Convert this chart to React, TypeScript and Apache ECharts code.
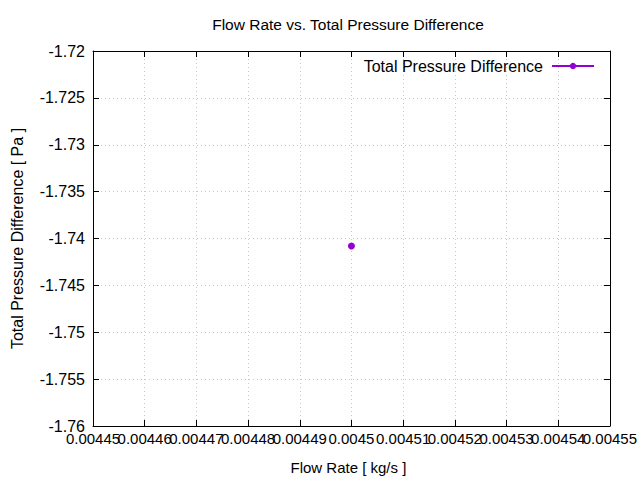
import React, { useEffect, useRef } from "react";
import * as echarts from "echarts";

const flowRate = [0.0045];
const totalPressureDifference = [-1.7408];
const seriesName = "Total Pressure Difference";
const titleText = "Flow Rate vs. Total Pressure Difference";
const xName = "Flow Rate [ kg/s ]";
const yName = "Total Pressure Difference [ Pa ]";
const xMin = 0.00445;
const xMax = 0.00455;
const xStep = 0.00001;
const yMin = -1.76;
const yMax = -1.72;
const yStep = 0.005;

const fmt = (v: number) => String(parseFloat(v.toFixed(6)));
const isEnd = (v: number) => Math.abs(v - xMin) < xStep / 10 || Math.abs(v - xMax) < xStep / 10;

export default function App() {
  const ref = useRef<HTMLDivElement>(null);
  useEffect(() => {
    const chart = echarts.init(ref.current!, undefined, { renderer: "svg" });
    const font = "Liberation Sans, Arial, sans-serif";
    const fs = 15;
    const grid = { left: 93, right: 27, top: 51, bottom: 54 };
    const splitLine = { show: true, lineStyle: { color: "#c8c8c8", type: [1, 3] as any, width: 1 } };
    const axisLine = { show: true, lineStyle: { color: "#000", width: 1 } };
    const axisTick = { show: true, inside: true, length: 6, lineStyle: { color: "#000" } };
    const xLabelBase = { interval: 0, fontSize: fs, color: "#000", margin: 5, fontFamily: font };
    chart.setOption({
      animation: false,
      backgroundColor: "#fff",
      textStyle: { fontFamily: font },
      title: {
        text: titleText,
        left: 348,
        textAlign: "center",
        top: 16,
        padding: 0,
        textStyle: { fontSize: 15.5, fontWeight: "normal", color: "#000", fontFamily: font },
      },
      legend: {
        right: 45,
        top: 58,
        padding: 0,
        align: "right",
        itemWidth: 42,
        itemHeight: 8,
        textStyle: { fontSize: fs + 1, color: "#000", fontFamily: font, padding: [0, 4, 0, 0] },
        data: [seriesName],
      },
      grid,
      xAxis: [
        {
          type: "value",
          min: xMin,
          max: xMax,
          interval: xStep,
          name: xName,
          nameLocation: "middle",
          nameGap: 34,
          nameTextStyle: { fontSize: fs, color: "#000", fontFamily: font, padding: [0, 6, 0, 0] },
          axisLine,
          axisTick,
          splitLine,
          axisLabel: { ...xLabelBase, formatter: fmt, showMinLabel: false, showMaxLabel: false },
        },
        {
          type: "value",
          position: "top",
          min: xMin,
          max: xMax,
          interval: xStep,
          axisLine,
          axisTick,
          splitLine: { show: false },
          axisLabel: { show: false },
        },
        {
          type: "value",
          position: "bottom",
          min: xMin,
          max: xMax,
          interval: xStep,
          axisLine: { show: false },
          axisTick: { show: false },
          splitLine: { show: false },
          axisLabel: {
            ...xLabelBase,
            showMinLabel: true,
            showMaxLabel: true,
            formatter: (v: number) => (isEnd(v) ? fmt(v) : ""),
          },
        },
      ],
      yAxis: [
        {
          type: "value",
          min: yMin,
          max: yMax,
          interval: yStep,
          name: yName,
          nameLocation: "middle",
          nameGap: 68,
          nameRotate: 90,
          nameTextStyle: { fontSize: fs + 1, color: "#000", fontFamily: font },
          axisLine,
          axisTick,
          splitLine,
          axisLabel: { fontSize: fs + 1, color: "#000", margin: 8, formatter: fmt },
        },
        {
          type: "value",
          position: "right",
          min: yMin,
          max: yMax,
          interval: yStep,
          axisLine,
          axisTick,
          splitLine: { show: false },
          axisLabel: { show: false },
        },
      ],
      series: [
        {
          name: seriesName,
          type: "line",
          data: flowRate.map((x, i) => [x, totalPressureDifference[i]]),
          symbol: "circle",
          symbolSize: 7,
          showSymbol: true,
          color: "#9400d3",
          lineStyle: { color: "#9400d3", width: 2 },
          itemStyle: { color: "#9400d3" },
        },
      ],
    });
    return () => chart.dispose();
  }, []);
  return <div ref={ref} style={{ width: 640, height: 480, position: "absolute", left: 0, top: 0 }} />;
}
